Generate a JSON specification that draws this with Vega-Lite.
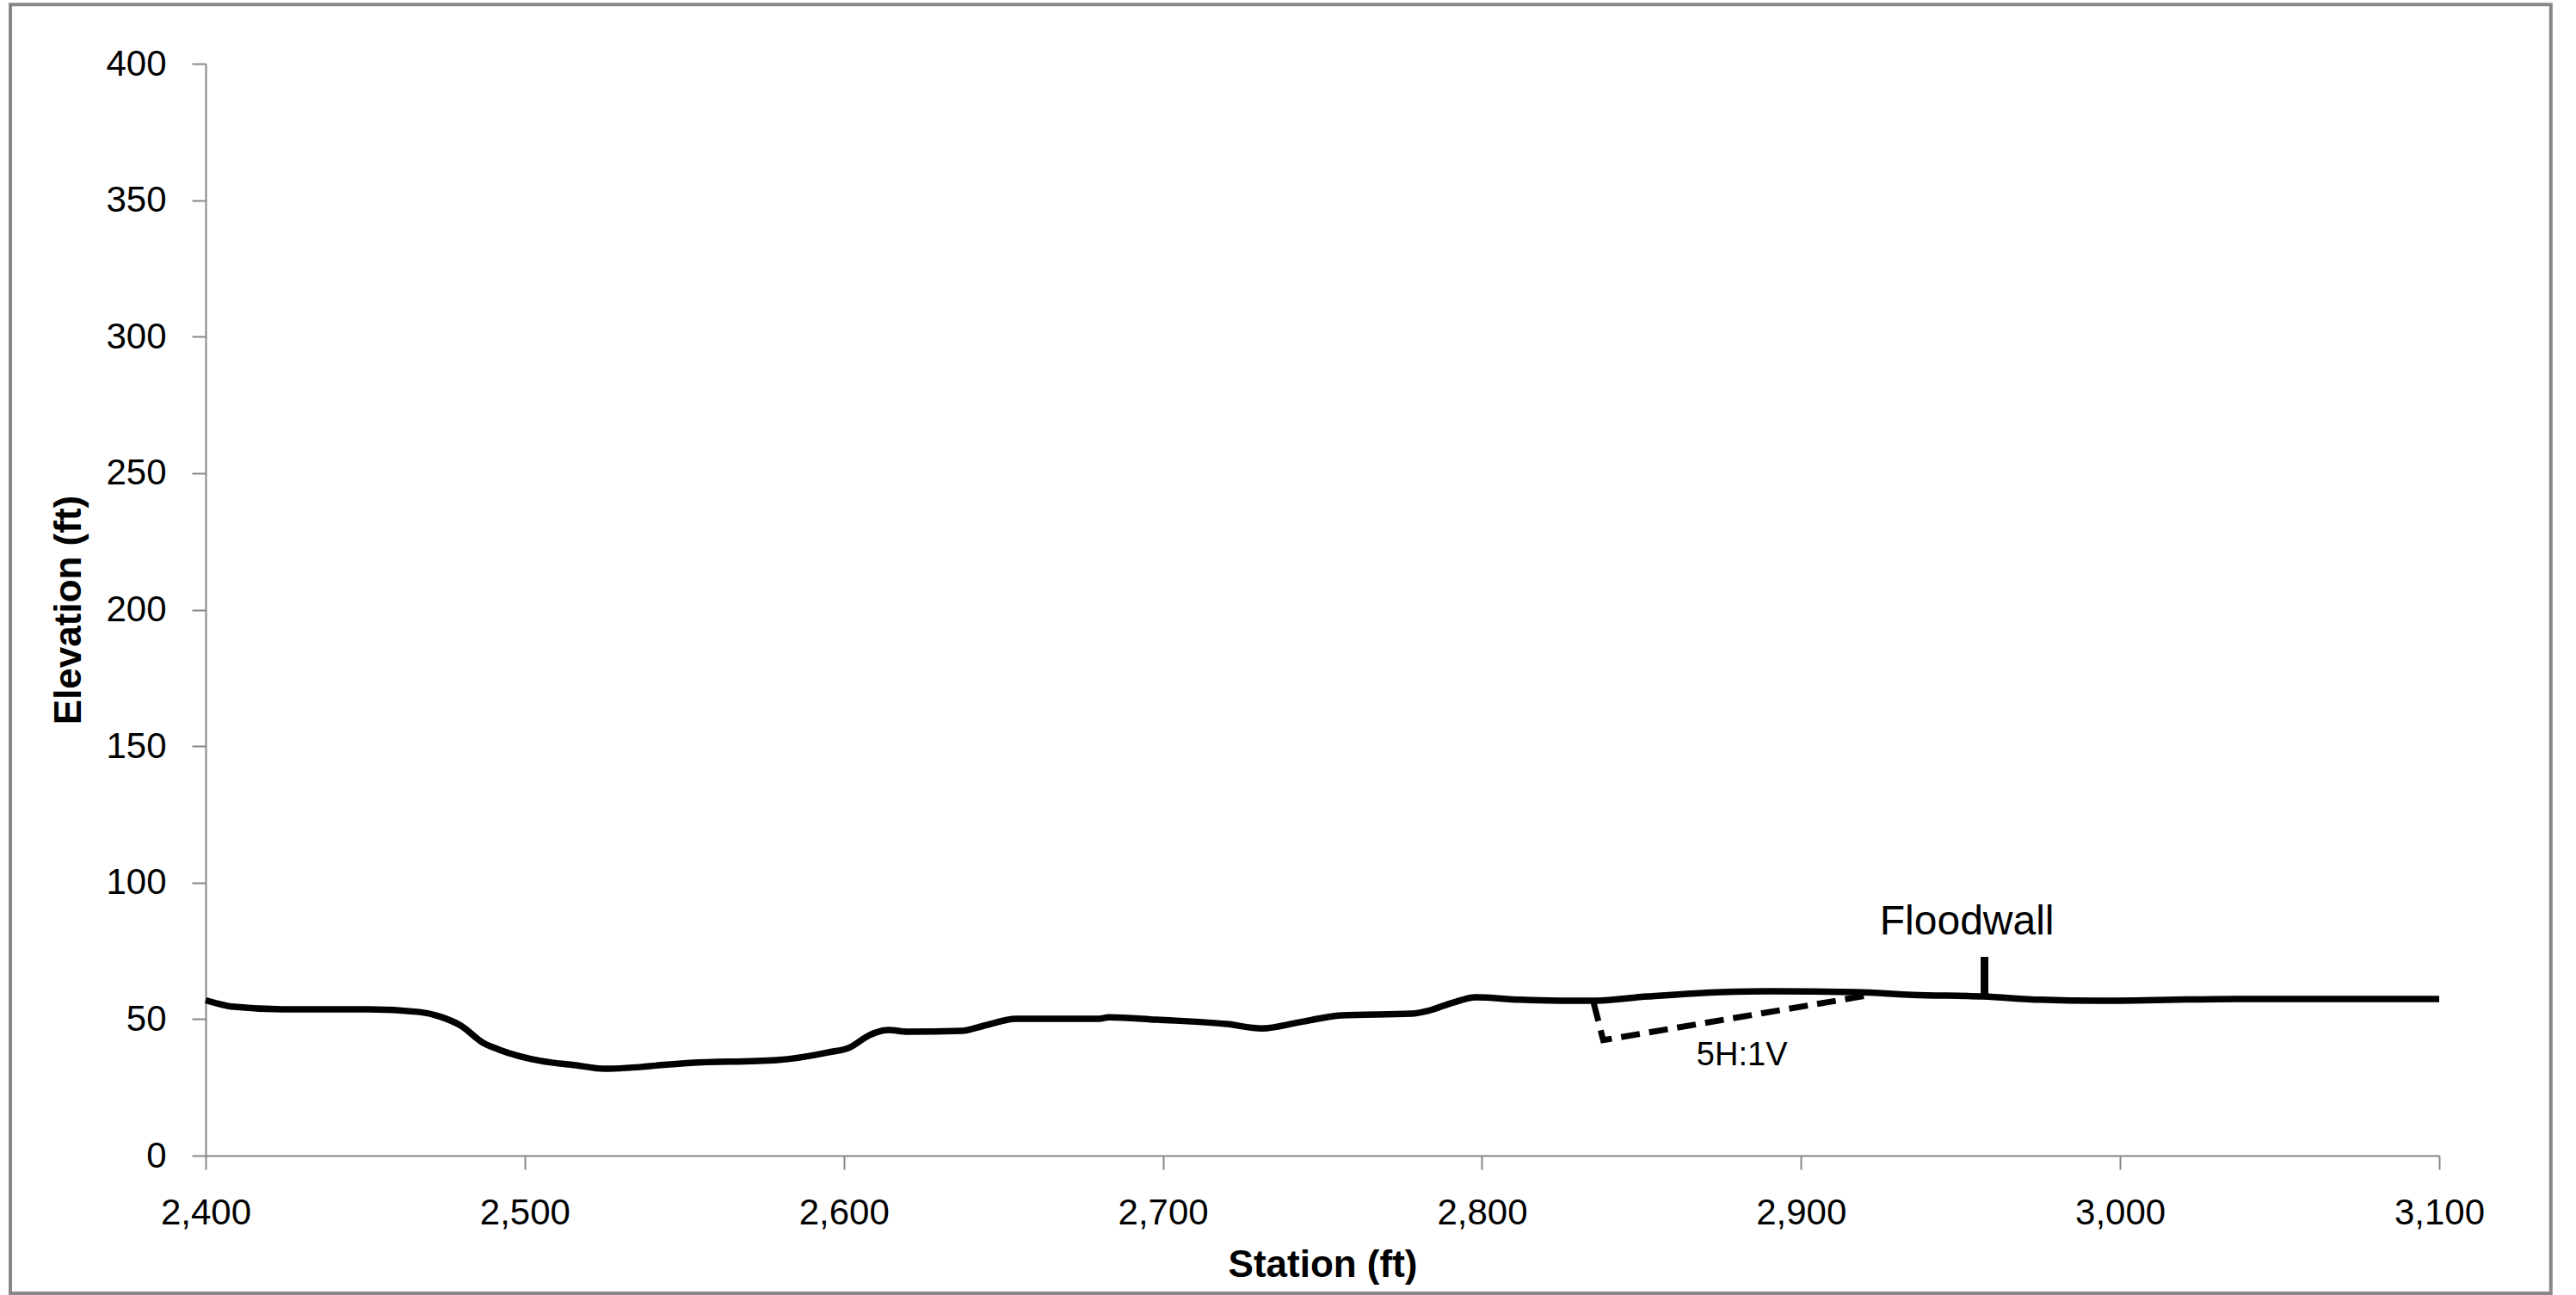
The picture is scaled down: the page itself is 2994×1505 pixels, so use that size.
{
  "$schema": "https://vega.github.io/schema/vega-lite/v6.json",
  "width": 2596,
  "height": 1269,
  "autosize": {"type": "none"},
  "padding": {"left": 239, "top": 74, "right": 159, "bottom": 162},
  "background": "white",
  "config": {
    "view": {"stroke": null},
    "font": "Liberation Sans",
    "axis": {
      "grid": false,
      "labelFlush": false,
      "labelOverlap": false,
      "domainColor": "#868686",
      "domainWidth": 2,
      "tickColor": "#868686",
      "tickWidth": 2,
      "tickSize": 16,
      "labelFont": "Liberation Sans",
      "labelFontSize": 42,
      "labelColor": "#000000",
      "labelPadding": 30,
      "titleFont": "Liberation Sans",
      "titleFontSize": 44,
      "titleFontWeight": "bold",
      "titleColor": "#000000"
    }
  },
  "datasets": {
    "ground": [
      {"station": 2400, "elev": 56.9},
      {"station": 2409, "elev": 54.5},
      {"station": 2424, "elev": 53.6},
      {"station": 2451, "elev": 53.6},
      {"station": 2467, "elev": 52.6},
      {"station": 2474, "elev": 50.7},
      {"station": 2480, "elev": 47.6},
      {"station": 2487, "elev": 41.3},
      {"station": 2492, "elev": 38.8},
      {"station": 2505, "elev": 34.7},
      {"station": 2516, "elev": 33.1},
      {"station": 2525, "elev": 31.8},
      {"station": 2552, "elev": 34.0},
      {"station": 2579, "elev": 35.0},
      {"station": 2595, "elev": 37.8},
      {"station": 2602, "elev": 39.7},
      {"station": 2608, "elev": 44.1},
      {"station": 2614, "elev": 46.0},
      {"station": 2620, "elev": 45.4},
      {"station": 2637, "elev": 45.7},
      {"station": 2644, "elev": 47.6},
      {"station": 2654, "elev": 50.1},
      {"station": 2680, "elev": 50.1},
      {"station": 2683, "elev": 50.7},
      {"station": 2698, "elev": 49.8},
      {"station": 2720, "elev": 48.2},
      {"station": 2731, "elev": 46.6},
      {"station": 2743, "elev": 48.9},
      {"station": 2756, "elev": 51.4},
      {"station": 2778, "elev": 52.0},
      {"station": 2783, "elev": 53.0},
      {"station": 2791, "elev": 56.1},
      {"station": 2798, "elev": 58.0},
      {"station": 2812, "elev": 57.1},
      {"station": 2834, "elev": 56.7},
      {"station": 2852, "elev": 58.3},
      {"station": 2875, "elev": 59.9},
      {"station": 2890, "elev": 60.2},
      {"station": 2917, "elev": 59.9},
      {"station": 2935, "elev": 58.9},
      {"station": 2957, "elev": 58.3},
      {"station": 2975, "elev": 57.1},
      {"station": 2993, "elev": 56.7},
      {"station": 3036, "elev": 57.4},
      {"station": 3100, "elev": 57.4}
    ],
    "cut": [
      {"station": 2835, "elev": 56.0},
      {"station": 2838, "elev": 42.3},
      {"station": 2922, "elev": 58.9}
    ],
    "wall": [
      {"station": 2957.5, "elev": 58.3},
      {"station": 2957.5, "elev": 72.8}
    ],
    "labels": [
      {"text": "Floodwall", "station": 2952, "elev": 85.4, "kind": "big"},
      {"text": "5H:1V", "station": 2881.5, "elev": 36.6, "kind": "small"}
    ],
    "frame": [
      {"station": 2338.8, "station2": 3135.0, "elev": -50.4, "elev2": 421.7}
    ]
  },
  "encoding": {
    "x": {
      "field": "station", "type": "quantitative",
      "scale": {"domain": [2400, 3100], "nice": false, "zero": false},
      "axis": {"values": [2400, 2500, 2600, 2700, 2800, 2900, 3000, 3100], "format": ",.0f", "title": "Station (ft)", "titlePadding": 18}
    },
    "y": {
      "field": "elev", "type": "quantitative",
      "scale": {"domain": [0, 400], "nice": false},
      "axis": {"values": [0, 50, 100, 150, 200, 250, 300, 350, 400], "format": "d", "title": "Elevation (ft)", "titlePadding": 20}
    }
  },
  "layer": [
    {
      "data": {"name": "ground"},
      "mark": {"type": "line", "color": "black", "strokeWidth": 7.5, "interpolate": "monotone"}
    },
    {
      "data": {"name": "frame"},
      "mark": {"type": "rect", "fill": null, "stroke": "#878787", "strokeWidth": 4, "clip": false},
      "encoding": {
        "x2": {"field": "station2"},
        "y2": {"field": "elev2"}
      }
    },
    {
      "data": {"name": "cut"},
      "mark": {"type": "line", "color": "black", "strokeWidth": 7, "strokeDash": [22, 11]}
    },
    {
      "data": {"name": "wall"},
      "mark": {"type": "line", "color": "black", "strokeWidth": 9, "strokeCap": "butt"}
    },
    {
      "data": {"name": "labels"},
      "transform": [{"filter": "datum.kind === 'big'"}],
      "mark": {"type": "text", "fontSize": 48, "color": "black", "align": "center", "baseline": "middle"},
      "encoding": {"text": {"field": "text"}}
    },
    {
      "data": {"name": "labels"},
      "transform": [{"filter": "datum.kind === 'small'"}],
      "mark": {"type": "text", "fontSize": 38, "color": "black", "align": "center", "baseline": "middle"},
      "encoding": {"text": {"field": "text"}}
    }
  ]
}
